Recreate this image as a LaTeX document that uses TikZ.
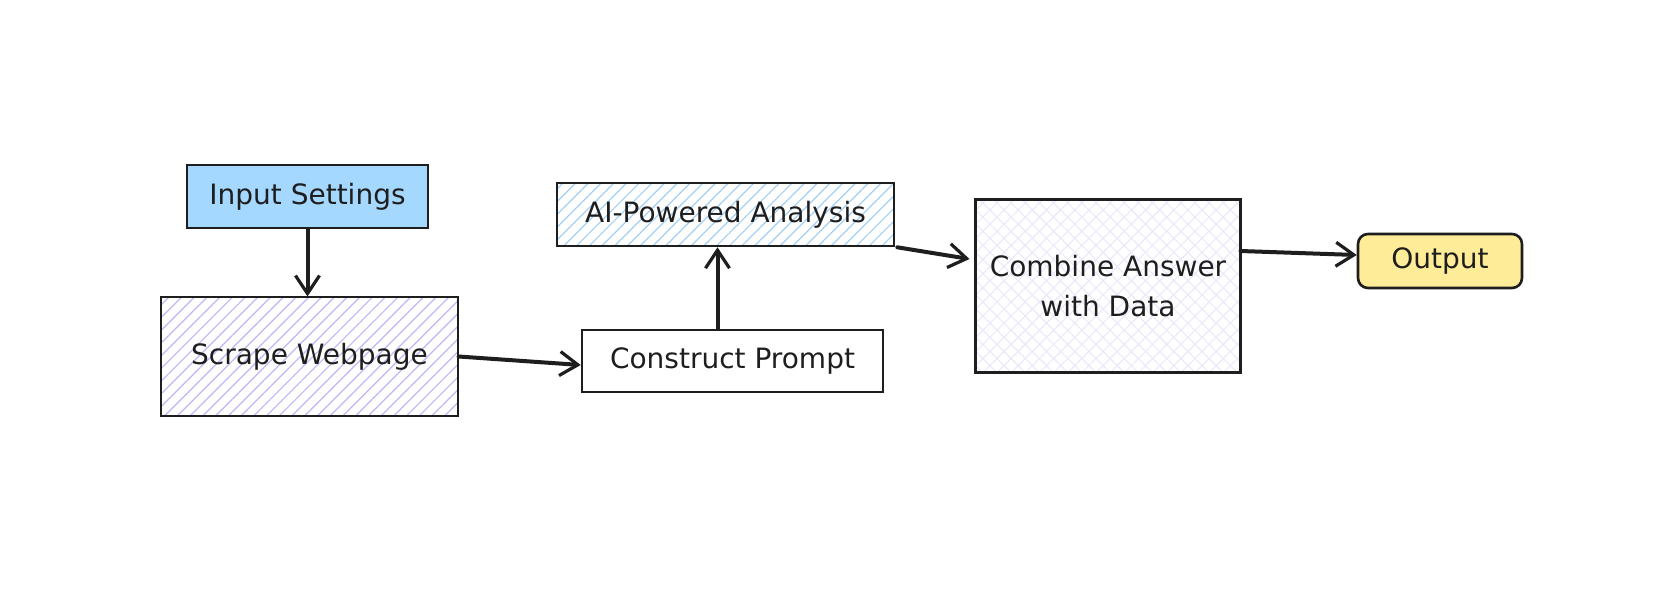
\documentclass[tikz,border=0pt]{standalone}
\usepackage{fontspec}
\setmainfont{DejaVu Sans}
\usetikzlibrary{arrows.meta,patterns.meta}
\definecolor{inkc}{HTML}{1E1E1E}
\definecolor{bluefill}{HTML}{A5D8FF}
\definecolor{purplehatch}{HTML}{C4B5F5}
\definecolor{bluehatch}{HTML}{A5D0F5}
\definecolor{lavhatch}{HTML}{EDE6FA}
\definecolor{yellowfill}{HTML}{FFEC99}
\tikzset{
  box/.style={draw=inkc, line width=1.3pt, align=center, font=\fontsize{14}{18}\selectfont, text=inkc, inner sep=0pt},
  lbl/.style={font=\fontsize{14}{20}\selectfont, text=inkc, align=center},
  flow/.style={draw=inkc, line width=2pt, line cap=round, -{Straight Barb[length=9pt,width=12pt,line width=1.6pt]}},
}
\begin{document}
\begin{tikzpicture}[x=0.5pt,y=-0.5pt]
\useasboundingbox[fill=white] (0,0) rectangle (1658,606);
\node[box, fill=bluefill, minimum width=120.5pt, minimum height=31.5pt] (in) at (307.5,196.5) {Input Settings};
\node[box, pattern={Lines[angle=45,distance=4.5pt,line width=0.6pt]}, pattern color=purplehatch, minimum width=148.5pt, minimum height=59.5pt] (sw) at (309.5,356.5) {};
\node[lbl] at (sw) {Scrape Webpage};
\node[box, pattern={Lines[angle=45,distance=4.5pt,line width=0.6pt]}, pattern color=bluehatch, minimum width=168.5pt, minimum height=31.5pt] (ai) at (725.5,214.5) {};
\node[lbl] at (ai) {AI-Powered Analysis};
\node[box, minimum width=150.5pt, minimum height=31pt] (cp) at (732.5,361) {Construct Prompt};
\node[pattern={Lines[angle=45,distance=5pt,line width=0.5pt]}, pattern color=lavhatch, inner sep=0pt, minimum width=132pt, minimum height=86pt] (cb) at (1108,286) {};
\path[pattern={Lines[angle=-45,distance=5pt,line width=0.5pt]}, pattern color=lavhatch] (cb.south west) rectangle (cb.north east);
\draw[draw=inkc, line width=1.3pt] (cb.south west) rectangle (cb.north east);
\node[lbl] at (cb) {Combine Answer\\with Data};
\node[box, fill=yellowfill, rounded corners=5pt, minimum width=82pt, minimum height=27pt] (op) at (1440,261) {Output};
\draw[flow] (in.south) -- (in.south |- sw.north);
\draw[flow] (sw.east) -- ([yshift=-2pt]cp.west);
\draw[flow] ([xshift=-7.5pt]cp.north) -- ([xshift=-7.5pt]cp.north |- ai.south);
\draw[flow] ([xshift=1pt]ai.south east) -- ([xshift=-3pt,yshift=13.5pt]cb.west);
\draw[flow] ([yshift=17.5pt]cb.east) -- ([yshift=3pt]op.west);
\end{tikzpicture}
\end{document}
